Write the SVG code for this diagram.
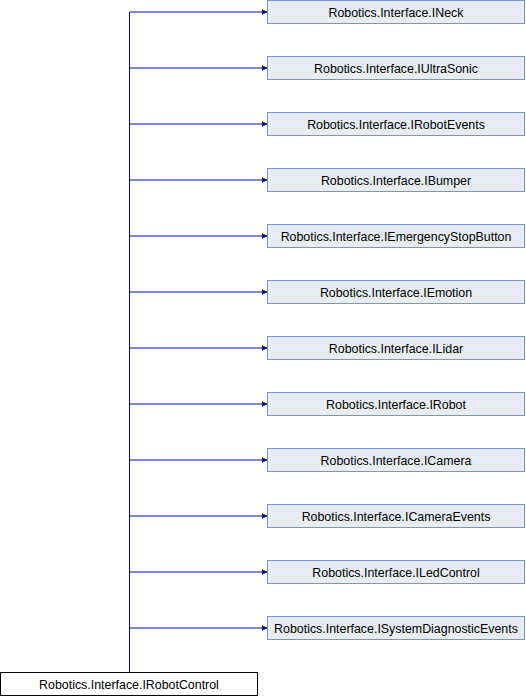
<svg xmlns="http://www.w3.org/2000/svg" width="526" height="696" viewBox="0 0 526 696">
<style>
.n rect{fill:#e8ecf5;stroke:#7b95c9;stroke-width:1}
.r rect{fill:#ffffff;stroke:#000000;stroke-width:1}
text{font-family:"Liberation Sans",Arial,sans-serif;font-size:12.4px;fill:#000;text-anchor:middle}
.e line{stroke:#0a0a96;stroke-width:1;fill:none}
</style>
<defs>
<marker id="a" markerWidth="6" markerHeight="6" refX="5" refY="3" orient="auto" markerUnits="userSpaceOnUse">
<path d="M0,0.5 L5,3 L0,5.5 Z" fill="#0a0a96" stroke="#0a0a96" stroke-width="0.5"/>
</marker>
</defs>
<g id="edges" class="e">
<line x1="129.5" y1="672" x2="129.5" y2="12"/>
<line x1="129.5" y1="12" x2="267" y2="12" marker-end="url(#a)"/>
<line x1="129.5" y1="68" x2="267" y2="68" marker-end="url(#a)"/>
<line x1="129.5" y1="124" x2="267" y2="124" marker-end="url(#a)"/>
<line x1="129.5" y1="180" x2="267" y2="180" marker-end="url(#a)"/>
<line x1="129.5" y1="236" x2="267" y2="236" marker-end="url(#a)"/>
<line x1="129.5" y1="292" x2="267" y2="292" marker-end="url(#a)"/>
<line x1="129.5" y1="348" x2="267" y2="348" marker-end="url(#a)"/>
<line x1="129.5" y1="404" x2="267" y2="404" marker-end="url(#a)"/>
<line x1="129.5" y1="460" x2="267" y2="460" marker-end="url(#a)"/>
<line x1="129.5" y1="516" x2="267" y2="516" marker-end="url(#a)"/>
<line x1="129.5" y1="572" x2="267" y2="572" marker-end="url(#a)"/>
<line x1="129.5" y1="628" x2="267" y2="628" marker-end="url(#a)"/>
</g>
<g id="n0" class="n"><rect x="267.5" y="0.5" width="257" height="23"/><text x="396" y="16.5">Robotics.Interface.INeck</text></g>
<g id="n1" class="n"><rect x="267.5" y="56.5" width="257" height="23"/><text x="396" y="72.5">Robotics.Interface.IUltraSonic</text></g>
<g id="n2" class="n"><rect x="267.5" y="112.5" width="257" height="23"/><text x="396" y="128.5">Robotics.Interface.IRobotEvents</text></g>
<g id="n3" class="n"><rect x="267.5" y="168.5" width="257" height="23"/><text x="396" y="184.5">Robotics.Interface.IBumper</text></g>
<g id="n4" class="n"><rect x="267.5" y="224.5" width="257" height="23"/><text x="396" y="240.5">Robotics.Interface.IEmergencyStopButton</text></g>
<g id="n5" class="n"><rect x="267.5" y="280.5" width="257" height="23"/><text x="396" y="296.5">Robotics.Interface.IEmotion</text></g>
<g id="n6" class="n"><rect x="267.5" y="336.5" width="257" height="23"/><text x="396" y="352.5">Robotics.Interface.ILidar</text></g>
<g id="n7" class="n"><rect x="267.5" y="392.5" width="257" height="23"/><text x="396" y="408.5">Robotics.Interface.IRobot</text></g>
<g id="n8" class="n"><rect x="267.5" y="448.5" width="257" height="23"/><text x="396" y="464.5">Robotics.Interface.ICamera</text></g>
<g id="n9" class="n"><rect x="267.5" y="504.5" width="257" height="23"/><text x="396" y="520.5">Robotics.Interface.ICameraEvents</text></g>
<g id="n10" class="n"><rect x="267.5" y="560.5" width="257" height="23"/><text x="396" y="576.5">Robotics.Interface.ILedControl</text></g>
<g id="n11" class="n"><rect x="267.5" y="616.5" width="257" height="23"/><text x="396" y="632.5">Robotics.Interface.ISystemDiagnosticEvents</text></g>
<g id="root" class="r"><rect x="0.5" y="672.5" width="257" height="23"/><text x="129" y="688.5">Robotics.Interface.IRobotControl</text></g>
</svg>
